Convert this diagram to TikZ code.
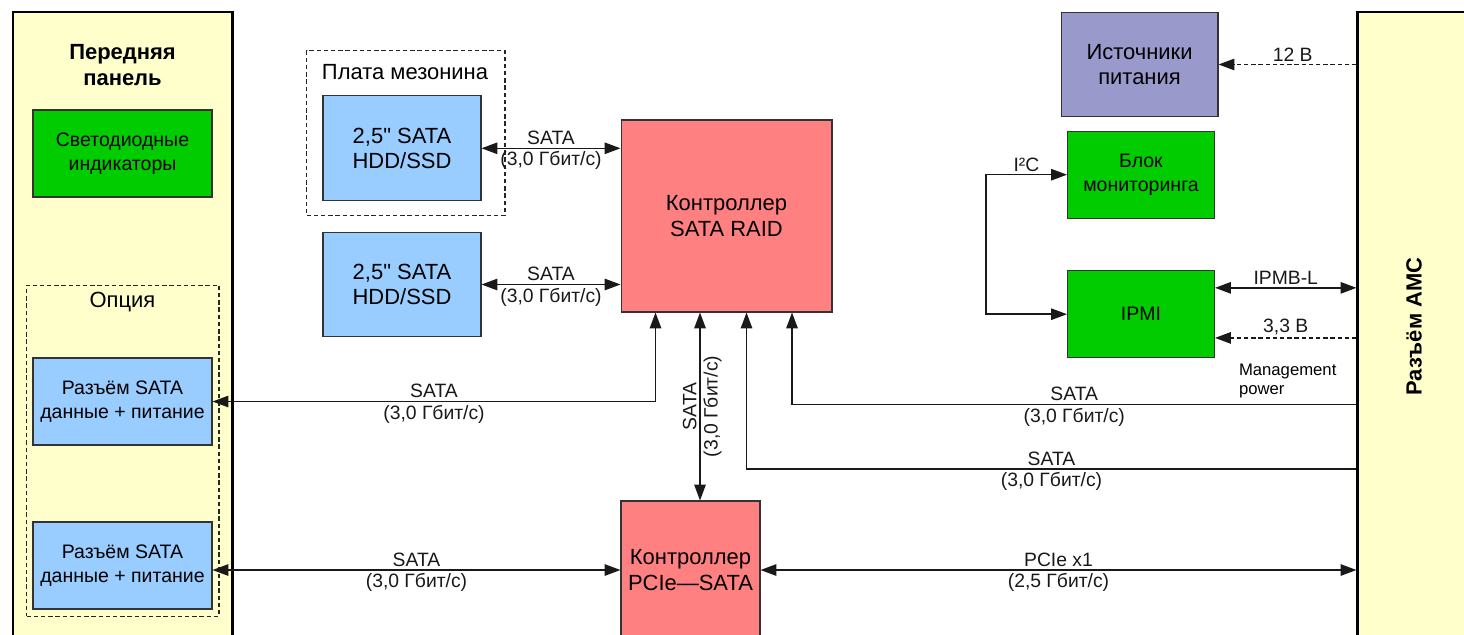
\documentclass[tikz,border=0pt]{standalone}
\usepackage{fontspec}
\setmainfont{Liberation Sans}[Ligatures=TeXOff]
\usetikzlibrary{arrows.meta, positioning, calc}
\definecolor{panelyellow}{RGB}{255, 255, 204}
\definecolor{ledgreen}{RGB}{0, 204, 0}
\definecolor{driveblue}{RGB}{153, 204, 255}
\definecolor{ctrlred}{RGB}{255, 128, 128}
\definecolor{pwrviolet}{RGB}{153, 153, 204}

\begin{document}
\begin{tikzpicture}[
  x=0.02cm, y=-0.02cm,
  txt/.style={font=\fontsize{12.5}{14.5}\selectfont, align=center},
  blk/.style={txt, draw=black!80, line width=0.6pt, inner sep=2pt},
  small/.style={font=\fontsize{11.1}{13.8}\selectfont},
  panelbox/.style={draw=black, line width=1.2pt, fill=panelyellow},
  dashbox/.style={draw=black!85, line width=0.6pt, dash pattern=on 2.5pt off 1.6pt},
  lbl/.style={font=\fontsize{11}{13}\selectfont, inner sep=1.5pt},
  conn/.style={line width=0.8pt, black!90},
  pwr/.style={conn, dash pattern=on 2.5pt off 1.6pt},
  onearrow/.style={-{Triangle[length=9pt, width=6.5pt]}},
  twoarrow/.style={{Triangle[length=9pt, width=6.5pt]}-{Triangle[length=9pt, width=6.5pt]}}
]
  \useasboundingbox (0,0) rectangle (1464,635);
  \clip (0,0) rectangle (1464,635);

  \node[panelbox, minimum width=4.39cm, minimum height=12.8cm] (front) at (122.75, 332) {};
  \node[panelbox, minimum width=2.45cm, minimum height=12.75cm] (amc) at (1418.75, 331) {};
  \node[txt, font=\bfseries\fontsize{12.5}{14.5}\selectfont] (fronttitle) at (122.5, 65) {Передняя\\панель};
  \node[txt, font=\bfseries\fontsize{12.5}{14.5}\selectfont, rotate=90] (amctitle) at (1414, 326.5) {Разъём AMC};

  \node[dashbox, minimum width=3.85cm, minimum height=6.63cm] (option) at (122.75, 450.75) {};
  \node[txt] (optiontitle) at (122.5, 302) {Опция};
  \node[dashbox, minimum width=3.97cm, minimum height=3.3cm] (mezz) at (405.75, 133) {};
  \node[txt] (mezztitle) at (405, 72) {Плата мезонина};

  \node[blk, small, fill=ledgreen, minimum width=3.58cm, minimum height=1.74cm] (led) at (122.5, 153.5) {Светодиодные\\индикаторы};
  \node[blk, small, fill=driveblue, minimum width=3.58cm, minimum height=1.74cm] (sata1) at (122.5, 401.5) {Разъём SATA\\данные + питание};
  \node[blk, small, fill=driveblue, minimum width=3.58cm, minimum height=1.74cm] (sata2) at (122.5, 565.5) {Разъём SATA\\данные + питание};
  \node[blk, fill=driveblue, minimum width=3.16cm, minimum height=2.1cm] (hdd1) at (402, 148.3) {2,5" SATA\\HDD/SSD};
  \node[blk, fill=driveblue, minimum width=3.16cm, minimum height=2.08cm] (hdd2) at (402, 284.5) {2,5" SATA\\HDD/SSD};
  \node[blk, fill=ctrlred, minimum width=4.22cm, minimum height=3.84cm] (raid) at (726.5, 216) {Контроллер\\SATA RAID};
  \node[blk, fill=ctrlred, minimum width=2.78cm, minimum height=2.76cm] (pcie) at (690.5, 570) {Контроллер\\PCIe—SATA};
  \node[blk, fill=pwrviolet, minimum width=3.14cm, minimum height=2.08cm] (power) at (1139.5, 64.5) {Источники\\питания};
  \node[blk, small, fill=ledgreen, minimum width=2.94cm, minimum height=1.74cm] (mon) at (1141, 174.7) {Блок\\мониторинга};
  \node[blk, small, fill=ledgreen, minimum width=2.94cm, minimum height=1.74cm] (ipmi) at (1141, 314.2) {IPMI};
  \node[lbl, font=\fontsize{9.5}{11}\selectfont, align=left, anchor=west] (mgmt) at (1236, 381) {Management\\power};

  \draw[conn, twoarrow] (hdd1.east) -- (hdd1.east -| raid.west)
    node[lbl, midway, above] {SATA} node[lbl, midway, below] {(3,0 Гбит/с)};
  \draw[conn, twoarrow] (hdd2.east) -- (hdd2.east -| raid.west)
    node[lbl, midway, above] {SATA} node[lbl, midway, below] {(3,0 Гбит/с)};
  \draw[conn, twoarrow] ($(raid.south)+(-71,0)$) |- (sata1.east)
    node[lbl, pos=0.75, above] {SATA} node[lbl, pos=0.75, below] {(3,0 Гбит/с)};
  \coordinate (raidpcie) at ($(raid.south)+(-26.5,0)$);
  \draw[conn, twoarrow] (raidpcie) -- (raidpcie |- pcie.north)
    node[lbl, midway, rotate=90, above] {SATA} node[lbl, midway, rotate=90, below] {(3,0 Гбит/с)};
  \draw[conn, onearrow] ($(amc.west)+(0,73.5)$) -| ($(raid.south)+(65.5,0)$)
    node[lbl, pos=0.25, above] {SATA} node[lbl, pos=0.25, below] {(3,0 Гбит/с)};
  \draw[conn, onearrow] ($(amc.west)+(0,138)$) -| ($(raid.south)+(20,0)$)
    node[lbl, pos=0.25, above] {SATA} node[lbl, pos=0.25, below] {(3,0 Гбит/с)};
  \draw[conn, twoarrow] (sata2.east |- pcie.west) -- (pcie.west)
    node[lbl, midway, above] {SATA} node[lbl, midway, below] {(3,0 Гбит/с)};
  \draw[conn, twoarrow] (pcie.east) -- (pcie.east -| amc.west)
    node[lbl, midway, above] {PCIe x1} node[lbl, midway, below] {(2,5 Гбит/с)};

  \draw[pwr, onearrow] (power.east -| amc.west) -- (power.east)
    node[lbl, midway, above, xshift=3pt] {12 В};
  \coordinate (ipmbl) at ([yshift=15pt]ipmi.east);
  \coordinate (mgmtpwr) at ([yshift=-13.5pt]ipmi.east);
  \draw[conn, twoarrow] (ipmbl) -- (ipmbl -| amc.west)
    node[lbl, midway, above] {IPMB-L};
  \draw[pwr, onearrow] (mgmtpwr -| amc.west) -- (mgmtpwr)
    node[lbl, midway, above] {3,3 В};
  \draw[conn, twoarrow] (mon.west) -- node[lbl, above] {I²C} ++(-81,0) |- (ipmi.west);
\end{tikzpicture}
\end{document}
